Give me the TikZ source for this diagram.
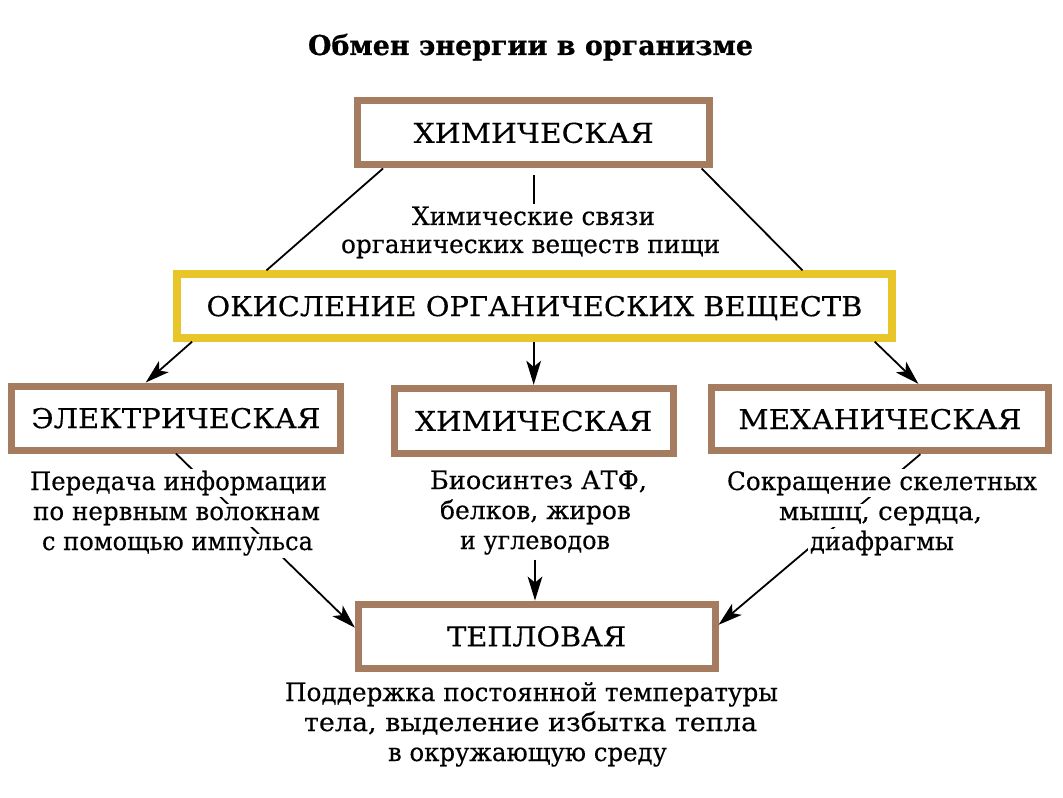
\documentclass[tikz,border=0pt]{standalone}
\usepackage{fontspec}
\usepackage{graphicx}
\setmainfont[FakeBold=0.35]{DejaVu Serif}
\newfontfamily\titlefont[FakeBold=0.6]{DejaVu Serif Bold}
\usetikzlibrary{arrows.meta,calc}
\definecolor{brownb}{RGB}{166,124,96}
\definecolor{yellowb}{RGB}{232,198,42}
\newsavebox\fitbx
\newcommand\fitto[2]{\sbox\fitbx{#2}\pgfmathsetmacro\fitr{#1*0.75/\the\wd\fitbx}\scalebox{\fitr}[1]{\usebox\fitbx}}
\begin{document}
\begin{tikzpicture}[x=0.75pt,y=-0.75pt,
  ebox/.style={draw=brownb,line width=5.25pt,fill=white,inner sep=0pt,text depth=0pt,font=\fontsize{20.5pt}{22pt}\selectfont},
  obox/.style={draw=yellowb,line width=5.5pt,fill=white,inner sep=0pt,text depth=0pt,font=\fontsize{20.5pt}{22pt}\selectfont},
  txt/.style={inner sep=1.5pt,anchor=base,fill=white,font=\fontsize{19pt}{21pt}\selectfont},
  ttl/.style={inner sep=0pt,anchor=base,font=\fontsize{20.5pt}{22pt}\titlefont},
  con/.style={line width=1.35pt},
  arr/.style={con,-{Stealth[length=18pt,width=11pt,inset=4.5pt]}}]
\fill[white] (0,0) rectangle (1063,798);
\useasboundingbox (0,0) rectangle (1063,798);

% title
\node[ttl] (title) at (530.5,55) {\fitto{445}{Обмен энергии в организме}};

% boxes
\node[ebox,minimum width=264.4pt,minimum height=48.4pt] (top) at (533.7,132.7) {\fitto{240}{ХИМИЧЕСКАЯ}};
\node[obox,minimum width=536.25pt,minimum height=48pt] (ox) at (534.5,306) {\fitto{656}{ОКИСЛЕНИЕ ОРГАНИЧЕСКИХ ВЕЩЕСТВ}};
\node[ebox,minimum width=246.2pt,minimum height=48pt] (elec) at (175.9,418) {\fitto{289}{ЭЛЕКТРИЧЕСКАЯ}};
\node[ebox,minimum width=209pt,minimum height=48.75pt] (chem) at (533.7,420.8) {\fitto{237}{ХИМИЧЕСКАЯ}};
\node[ebox,minimum width=252.2pt,minimum height=47.5pt] (mech) at (879.9,419) {\fitto{283}{МЕХАНИЧЕСКАЯ}};
\node[ebox,minimum width=267.5pt,minimum height=48.2pt] (heat) at (536.7,636.2) {\fitto{179}{ТЕПЛОВАЯ}};

% connectors drawn before body texts
\draw[con] ($(top.south west)!0.081!(top.south east)$) -- ($(ox.north west)!0.129!(ox.north east)$);
\draw[con] ($(top.south west)!0.967!(top.south east)$) -- ($(ox.north west)!0.871!(ox.north east)$);
\draw[arr] ($(ox.south west)!0.026!(ox.south east)$) -- ($(elec.north west)!0.41!(elec.north east)$);
\draw[arr] (chem.north |- ox.south) -- (chem.north);
\draw[arr] ($(ox.south west)!0.971!(ox.south east)$) -- ($(mech.north west)!0.612!(mech.north east)$);
\draw[arr] (elec.south) -- ($(heat.north west)!0.38!(heat.south west)$);
\draw[arr] ($(mech.south west)!0.618!(mech.south east)$) -- ($(heat.north east)!0.34!(heat.south east)$);

% texts
\node[txt] (hs1) at (533.5,225) {\fitto{243}{Химические связи}};
\node[txt] (hs2) at (530.5,253) {\fitto{379}{органических веществ пищи}};
\draw[con] ([yshift=-5pt]top.south) -- (top.south |- hs1.north);

\node[txt] (e1) at (178.5,490) {\fitto{297}{Передача информации}};
\node[txt] (e2) at (176.5,520) {\fitto{287}{по нервным волокнам}};
\node[txt] (e3) at (177.5,550) {\fitto{271}{с помощью импульса}};

\node[txt] (c1) at (538.5,489) {\fitto{217}{Биосинтез АТФ,}};
\node[txt] (c2) at (535.5,519) {\fitto{191}{белков, жиров}};
\node[txt] (c3) at (535,549) {\fitto{150}{и углеводов}};
\draw[arr] ([yshift=-2pt]c3.south) -- (c3.south |- heat.north);

\node[txt] (m1) at (882,490) {\fitto{310}{Сокращение скелетных}};
\node[txt] (m2) at (880.5,520) {\fitto{203}{мышц, сердца,}};
\node[txt] (m3) at (882,550) {\fitto{144}{диафрагмы}};

\node[txt] (b1) at (531.5,701) {\fitto{493}{Поддержка постоянной температуры}};
\node[txt] (b2) at (530.5,731) {\fitto{453}{тела, выделение избытка тепла}};
\node[txt] (b3) at (527.5,761) {\fitto{279}{в окружающую среду}};
\end{tikzpicture}
\end{document}
